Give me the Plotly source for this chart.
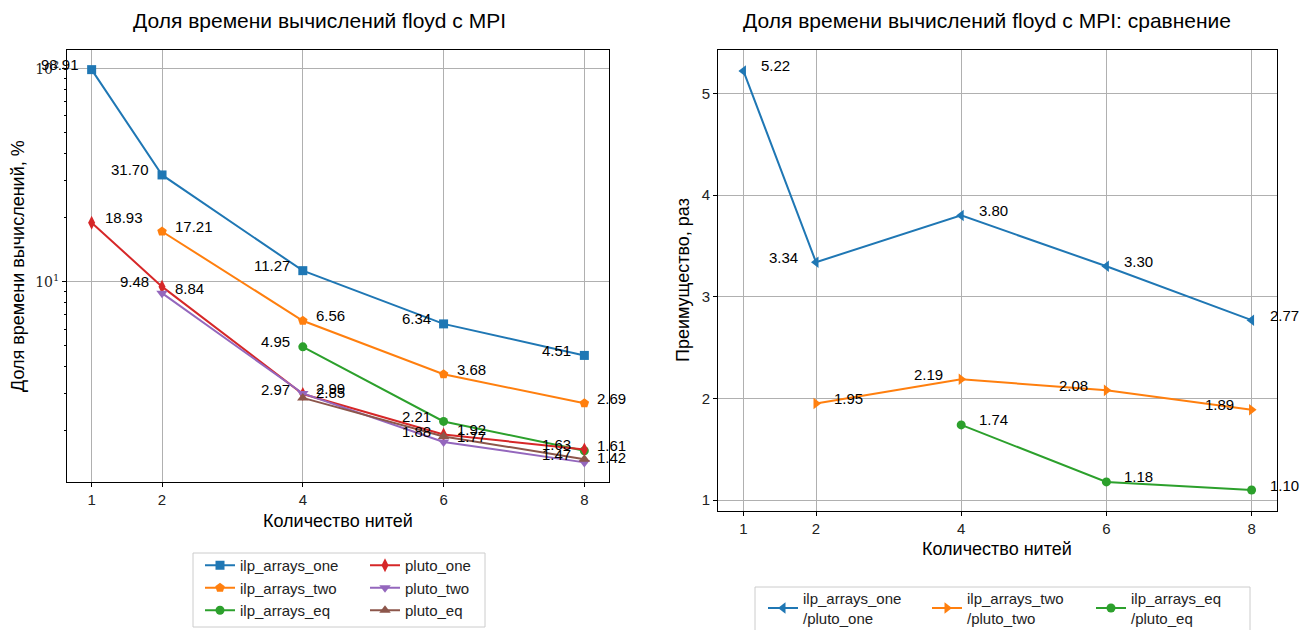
import math
import plotly.graph_objects as go

# ---------------- data ----------------
threads = [1, 2, 4, 6, 8]
threads_from2 = [2, 4, 6, 8]
threads_from4 = [4, 6, 8]

ilp_arrays_one = [98.91, 31.70, 11.27, 6.34, 4.51]
ilp_arrays_two = [17.21, 6.56, 3.68, 2.69]
ilp_arrays_eq = [4.95, 2.21, 1.61]
pluto_one = [18.93, 9.48, 2.97, 1.92, 1.63]
pluto_two = [8.84, 2.99, 1.77, 1.42]
pluto_eq = [2.85, 1.88, 1.47]

ratio_one = [5.22, 3.34, 3.80, 3.30, 2.77]
ratio_two = [1.95, 2.19, 2.08, 1.89]
ratio_eq = [1.74, 1.18, 1.10]

x_ticks = [1, 2, 4, 6, 8]
title_left = "Доля времени вычислений floyd с MPI"
title_right = "Доля времени вычислений floyd с MPI: сравнение"
xlabel = "Количество нитей"
ylabel_left = "Доля времени вычислений, %"
ylabel_right = "Преимущество, раз"

# ---------------- styles ----------------
FONT = "Liberation Sans"
C = ["#1f77b4", "#ff7f0e", "#2ca02c", "#d62728", "#9467bd", "#8c564b"]
LBL = 15

left_series = [
    ("ilp_arrays_one", threads, ilp_arrays_one, C[0], "square", 9, "legend", "LLLLL"),
    ("ilp_arrays_two", threads_from2, ilp_arrays_two, C[1], "pentagon", 10, "legend", "RRRR"),
    ("ilp_arrays_eq", threads_from4, ilp_arrays_eq, C[2], "circle", 9, "legend", "LLR"),
    ("pluto_one", threads, pluto_one, C[3], "diamond-tall", 10, "legend3", "RLLRL"),
    ("pluto_two", threads_from2, pluto_two, C[4], "triangle-down", 10, "legend3", "RRRR"),
    ("pluto_eq", threads_from4, pluto_eq, C[5], "triangle-up", 10, "legend3", "RLL"),
]
right_series = [
    ("ilp_arrays_one<br>/pluto_one", threads, ratio_one, C[0], "triangle-left", 10, "RLRRR"),
    ("ilp_arrays_two<br>/pluto_two", threads_from2, ratio_two, C[1], "triangle-right", 10, "RLLL"),
    ("ilp_arrays_eq<br>/pluto_eq", threads_from4, ratio_eq, C[2], "circle", 9, "RRR"),
]

fig = go.Figure()
annotations = []

W, H = 1313, 630


def px_x(p):
    return p / W


def px_y(p):
    return 1 - p / H


for name, xs, ys, col, sym, ms, leg, sides in left_series:
    fig.add_trace(go.Scatter(
        x=xs, y=ys, name=name, mode="lines+markers",
        line=dict(color=col, width=2),
        marker=dict(symbol=sym, size=ms, color=col, line=dict(width=0)),
        xaxis="x", yaxis="y", legend=leg, legendgroup=name,
    ))
    for xv, yv, sd in zip(xs, ys, sides):
        annotations.append(dict(
            x=xv, y=math.log10(yv), xref="x", yref="y",
            text=f"{yv:.2f}", showarrow=False,
            xanchor="right" if sd == "L" else "left", yanchor="middle",
            xshift=-11 if sd == "L" else 11, yshift=5,
            font=dict(family=FONT, size=LBL, color="#000"),
        ))

for name, xs, ys, col, sym, ms, sides in right_series:
    fig.add_trace(go.Scatter(
        x=xs, y=ys, name=name, mode="lines+markers",
        line=dict(color=col, width=2),
        marker=dict(symbol=sym, size=ms, color=col, line=dict(width=0)),
        xaxis="x2", yaxis="y2", legend="legend2",
    ))
    for xv, yv, sd in zip(xs, ys, sides):
        annotations.append(dict(
            x=xv, y=yv, xref="x2", yref="y2",
            text=f"{yv:.2f}", showarrow=False,
            xanchor="right" if sd == "L" else "left", yanchor="middle",
            xshift=-16 if sd == "L" else 16, yshift=5,
            font=dict(family=FONT, size=LBL, color="#000"),
        ))


def paper_text(x, y, text, size, angle=0):
    return dict(x=px_x(x), y=px_y(y), xref="paper", yref="paper", text=text,
                showarrow=False, xanchor="center", yanchor="middle",
                textangle=angle, font=dict(family=FONT, size=size, color="#000"))


annotations += [
    paper_text(319, 20, title_left, 21),
    paper_text(987, 20, title_right, 21),
    paper_text(338, 521, xlabel, 18),
    paper_text(997, 549, xlabel, 18),
    paper_text(18, 266, ylabel_left, 18, -90),
    paper_text(683, 280, ylabel_right, 18, -90),
]

axis_common = dict(
    showline=True, linecolor="#000", linewidth=1, mirror=True,
    ticks="outside", ticklen=4, tickcolor="#000",
    showgrid=True, gridcolor="#b0b0b0", gridwidth=1, zeroline=False,
    tickfont=dict(family=FONT, size=15, color="#222"),
)

minor_vals = [2, 3, 4, 5, 6, 7, 8, 9, 20, 30, 40, 50, 60, 70, 80, 90]

legend_common = dict(
    yanchor="top", xanchor="left", bgcolor="rgba(0,0,0,0)", borderwidth=0,
    font=dict(family=FONT, size=15, color="#222"),
    orientation="v", tracegroupgap=0,
)

fig.update_layout(
    width=W, height=H,
    margin=dict(l=0, r=0, t=0, b=0, autoexpand=False),
    paper_bgcolor="white", plot_bgcolor="white",
    font=dict(family=FONT, color="#000"),
    xaxis=dict(domain=[px_x(67), px_x(609)], range=[0.65, 8.35],
               tickvals=x_ticks, anchor="y", **axis_common),
    yaxis=dict(domain=[px_y(482), px_y(50)], type="log", range=[0.0602, 2.0874],
               tickvals=[10, 100], ticktext=["10<sup>1</sup>", "10<sup>2</sup>"],
               minor=dict(ticks="outside", ticklen=2.5, tickcolor="#000",
                          tickvals=minor_vals, showgrid=False),
               anchor="x",
               **{**axis_common, "tickfont": dict(family="DejaVu Serif", size=14, color="#222")}),
    xaxis2=dict(domain=[px_x(718), px_x(1277)], range=[0.65, 8.35],
                tickvals=x_ticks, anchor="y2", **axis_common),
    yaxis2=dict(domain=[px_y(511), px_y(50)], range=[0.894, 5.426],
                tickvals=[1, 2, 3, 4, 5], anchor="x2", **axis_common),
    legend=dict(x=px_x(200), y=px_y(549), **legend_common),
    legend3=dict(x=px_x(365), y=px_y(549), **legend_common),
    legend2=dict(
        x=px_x(763), y=px_y(582), xanchor="left", yanchor="top",
        orientation="h", entrywidth=119, entrywidthmode="pixels",
        borderwidth=0, bgcolor="rgba(0,0,0,0)",
        font=dict(family=FONT, size=15, color="#222"),
    ),
    shapes=[
        dict(type="rect", xref="paper", yref="paper",
             x0=px_x(193), x1=px_x(485), y0=px_y(627), y1=px_y(553),
             line=dict(color="#cccccc", width=1), fillcolor="white", layer="below"),
        dict(type="rect", xref="paper", yref="paper",
             x0=px_x(755), x1=px_x(1250), y0=px_y(640), y1=px_y(587),
             line=dict(color="#cccccc", width=1), fillcolor="white", layer="below"),
    ],
    annotations=annotations,
    showlegend=True,
)

fig.write_html("out.html")
